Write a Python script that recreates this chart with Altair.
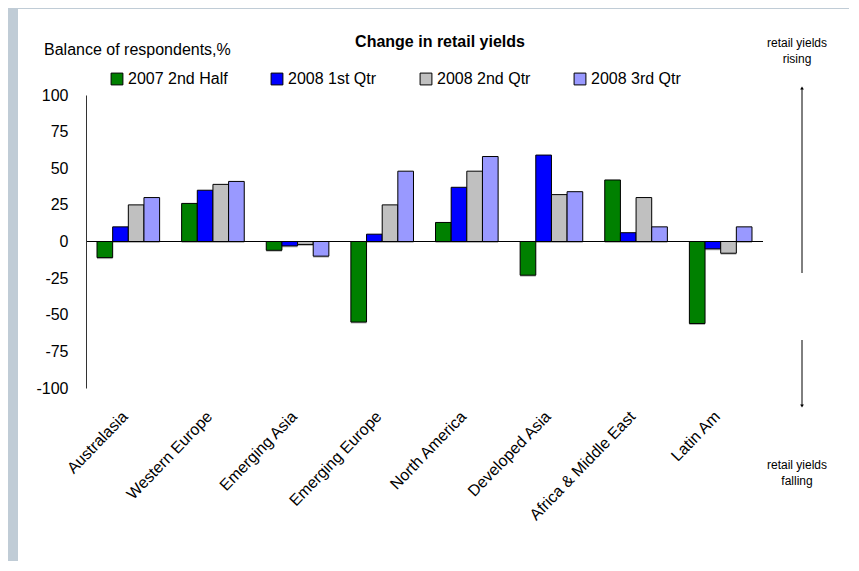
import altair as alt
import pandas as pd

regions = ["Australasia", "Western Europe", "Emerging Asia", "Emerging Europe",
           "North America", "Developed Asia", "Africa & Middle East", "Latin Am"]
series = ["2007 2nd Half", "2008 1st Qtr", "2008 2nd Qtr", "2008 3rd Qtr"]
colors = ["#008000", "#0000ff", "#c0c0c0", "#9999ff"]

v_2007h2 = [-11, 26, -6, -55, 13, -23, 42, -56]
v_2008q1 = [10, 35, -3, 5, 37, 59, 6, -5]
v_2008q2 = [25, 39, -2, 25, 48, 32, 30, -8]
v_2008q3 = [30, 41, -10, 48, 58, 34, 10, 10]

y_ticks = [100, 75, 50, 25, 0, -25, -50, -75, -100]

rows = []
for s, vals in zip(series, [v_2007h2, v_2008q1, v_2008q2, v_2008q3]):
    for r, v in zip(regions, vals):
        rows.append({"region": r, "series": s, "value": v})
df = pd.DataFrame(rows)

FONT = "Liberation Sans"
W, H = 677, 293

one = pd.DataFrame({"k": [0]})

panel = alt.Chart(one).mark_rect(color="white").encode(
    x=alt.value(-68), x2=alt.value(780), y=alt.value(-86), y2=alt.value(480)
)

x_enc = alt.X("region:N", sort=regions,
              scale=alt.Scale(paddingInner=0.26, paddingOuter=0.13),
              axis=alt.Axis(title=None, domain=False, ticks=False, labelAngle=-46,
                            labelAlign="right", labelBaseline="top", labelPadding=20,
                            labelOffset=-9,
                            labelFontSize=16, labelFont=FONT, labelColor="black",
                            labelLimit=300, zindex=1))
xo_enc = alt.XOffset("series:N", sort=series)
y_scale = alt.Scale(domain=[-100, 100], nice=False)
y_axis = alt.Axis(title=None, values=y_ticks, ticks=False, grid=False,
                  labelOverlap=False, labelExpr="'' + datum.value",
                  domainColor="#333333", labelFontSize=16, labelFont=FONT,
                  labelColor="black", labelPadding=18, zindex=1)
y_enc = alt.Y("value:Q", scale=y_scale, axis=y_axis)

shadow = alt.Chart(df).mark_bar(color="#7f7f7f", opacity=0.55, xOffset=1.5,
                                yOffset=1.5).encode(
    x=x_enc, xOffset=xo_enc, y=y_enc)

bars = alt.Chart(df).mark_bar(stroke="black", strokeWidth=1).encode(
    x=x_enc, xOffset=xo_enc, y=y_enc,
    color=alt.Color("series:N", sort=series,
                    scale=alt.Scale(domain=series, range=colors),
                    legend=alt.Legend(title=None, orient="none", legendX=23, legendY=-24,
                                      direction="horizontal", columns=4, gridAlign="none",
                                      columnPadding=41, symbolType="square", symbolSize=140,
                                      symbolStrokeColor="black", symbolStrokeWidth=1,
                                      symbolOpacity=1, labelFontSize=16, labelFont=FONT,
                                      labelColor="black", labelOffset=3, zindex=1)),
)

zero = alt.Chart(one).mark_rule(color="black", strokeWidth=1.2).encode(
    y=alt.Y(datum=0, type="quantitative", scale=y_scale, axis=y_axis))


def txt(t, x, y, size=16, bold=False, align="center"):
    return alt.Chart(pd.DataFrame({"t": [t]})).mark_text(
        font=FONT, fontSize=size, fontWeight="bold" if bold else "normal",
        align=align, baseline="middle", color="black"
    ).encode(text="t:N", x=alt.value(x), y=alt.value(y))


title = txt("Change in retail yields", 354, -53, 16, True)
ytitle = txt("Balance of respondents,%", -42, -45, 16, False, "left")
rise1 = txt("retail yields", 711, -52, 12)
rise2 = txt("rising", 711, -36, 12)
fall1 = txt("retail yields", 711, 370, 12)
fall2 = txt("falling", 711, 386, 12)

arrow_up = alt.Chart(one).mark_rule(color="black", strokeWidth=1).encode(
    x=alt.value(716), y=alt.value(-6), y2=alt.value(178))
arrow_dn = alt.Chart(one).mark_rule(color="black", strokeWidth=1).encode(
    x=alt.value(716), y=alt.value(245), y2=alt.value(310))
head_up = alt.Chart(one).mark_point(shape="triangle-up", filled=True, size=14,
                                    color="black", opacity=1).encode(
    x=alt.value(716), y=alt.value(-7))
head_dn = alt.Chart(one).mark_point(shape="triangle-down", filled=True, size=14,
                                    color="black", opacity=1).encode(
    x=alt.value(716), y=alt.value(311))

chart = alt.layer(
    panel, shadow, bars, zero, title, ytitle, rise1, rise2, fall1, fall2,
    arrow_up, arrow_dn, head_up, head_dn
).properties(
    width=W, height=H, autosize="none",
    padding={"left": 78, "top": 87, "right": 86, "bottom": 173},
    background="#c0ccd6",
).configure_view(stroke=None)

chart.save("out.html", embed_options={"renderer": "svg", "actions": False})
